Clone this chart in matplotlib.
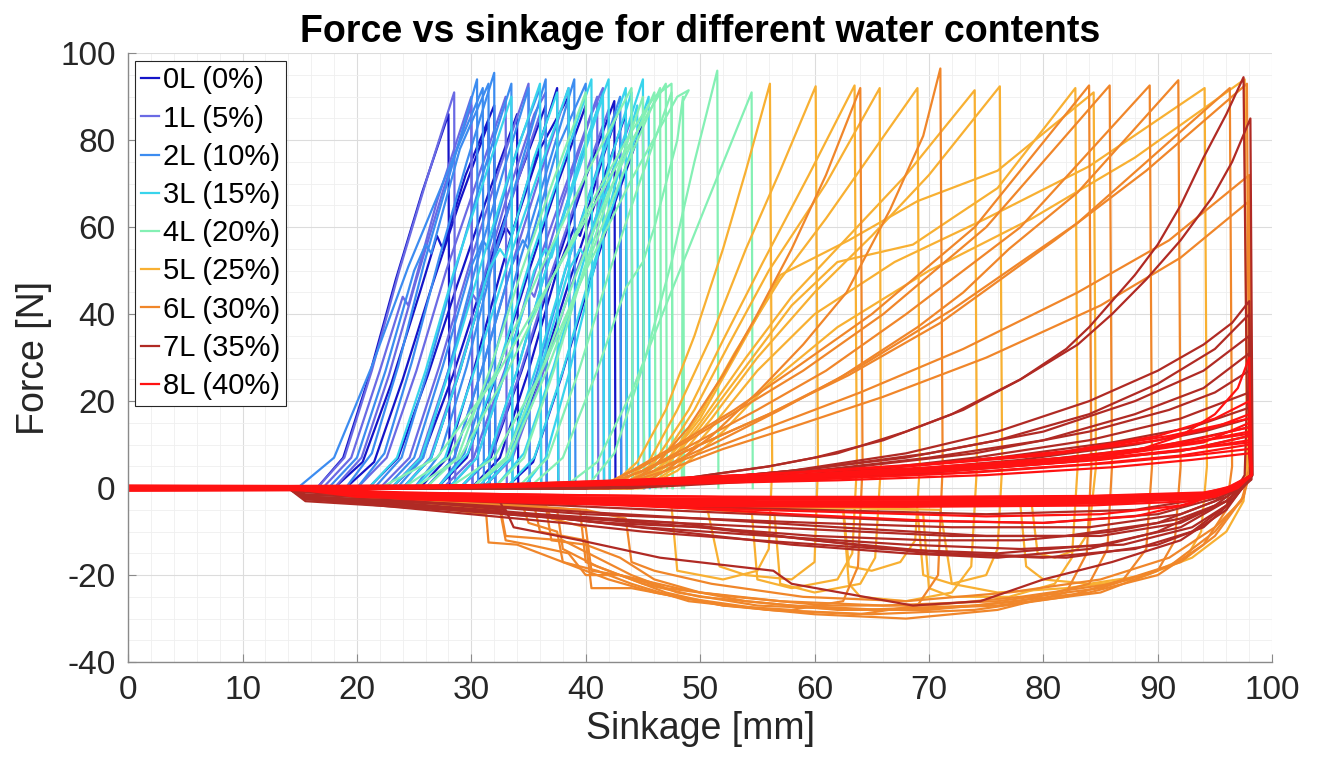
import numpy as np
import matplotlib
matplotlib.use('Agg')
import matplotlib.pyplot as plt
from matplotlib.ticker import MultipleLocator

plt.rcParams['font.family'] = ['Liberation Sans', 'DejaVu Sans']
plt.rcParams['axes.unicode_minus'] = False

# legend text and line colours per water content
labels = ['0L (0%)', '1L (5%)', '2L (10%)', '3L (15%)', '4L (20%)',
          '5L (25%)', '6L (30%)', '7L (35%)', '8L (40%)']
colors = ['#1414c8', '#6a6ae4', '#3c8cf0', '#38d4ec', '#84f0b4',
          '#f8b032', '#f0862a', '#b02a24', '#ff1212']

# each run: (sinkage [mm], force [N]) points
curves_0L = [
    [(0, 0), (16.5, 0), (18.8, 7), (21.1, 26), (23.4, 48), (25.7, 68), (28, 86), (28.1, 0)],
    [(0, 0), (18, 0), (20.5, 6), (23, 24), (25.5, 45), (27, 58), (27.5, 55), (29.5, 72), (32, 88), (32.1, 0)],
    [(0, 0), (19, 0), (21.5, 6), (24, 25), (26.5, 46), (29, 66), (31.5, 84), (31.6, 0)],
    [(0, 0), (21, 0), (23.6, 7), (26.2, 26), (28.8, 47), (31.4, 67), (34, 86), (34.1, 0)],
    [(0, 0), (23, 0), (25.7, 7), (28.4, 26), (31.1, 48), (33.8, 69), (36.5, 88), (36.6, 0)],
    [(0, 0), (24, 0), (26.5, 7), (29, 27), (31.5, 50), (33, 60), (33.5, 58), (36, 78), (38.5, 90), (38.6, 0)],
    [(0, 0), (25.5, 0), (27.9, 7), (30.3, 28), (32.7, 51), (35.1, 72), (37.5, 92), (37.6, 0)],
    [(0, 0), (27, 0), (29.6, 7), (32.2, 26), (34.8, 48), (37.4, 69), (40, 88), (40.1, 0)],
    [(0, 0), (29, 0), (31.7, 7), (34.4, 27), (37.1, 49), (39.8, 70), (42.5, 89), (42.6, 0)],
    [(0, 0), (30, 0), (32.5, 7), (35, 27), (37.5, 50), (39, 60), (39.5, 58), (41.5, 76), (43, 88), (43.1, 0)],
    [(0, 0), (31, 0), (33.5, 7), (36, 26), (38.5, 47), (41, 67), (43.5, 86), (43.6, 0)],
    [(0, 0), (33, 0), (35.4, 6), (37.8, 25), (40.2, 46), (42.6, 66), (45, 84), (45.1, 0)],
]
curves_1L = [
    [(0, 0), (16.5, 0), (18.9, 7), (21.3, 27), (23.7, 50), (26.1, 71), (28.5, 91), (28.6, 0)],
    [(0, 0), (17, 0), (19.5, 7), (22, 27), (24, 44), (24.5, 42), (27, 66), (29.5, 86), (30, 90), (30.1, 0)],
    [(0, 0), (18, 0), (20.4, 7), (22.8, 26), (25.2, 48), (27.6, 69), (30, 88), (30.1, 0)],
    [(0, 0), (20, 0), (22.6, 7), (25.2, 27), (27.8, 50), (30.4, 70), (33, 90), (33.1, 0)],
    [(0, 0), (22, 0), (24.6, 7), (27.2, 28), (29.8, 51), (32.4, 73), (35, 93), (35.1, 0)],
    [(0, 0), (23, 0), (25.5, 7), (28, 27), (30, 45), (30.5, 43), (33, 66), (35.5, 86), (36.5, 91), (36.6, 0)],
    [(0, 0), (24, 0), (26.4, 7), (28.8, 26), (31.2, 47), (33.6, 67), (36, 86), (36.1, 0)],
    [(0, 0), (26, 0), (28.5, 7), (31, 28), (33.5, 51), (36, 72), (38.5, 92), (38.6, 0)],
    [(0, 0), (27.5, 0), (30.2, 7), (32.9, 27), (35.6, 50), (38.3, 70), (41, 90), (41.1, 0)],
    [(0, 0), (28, 0), (30.5, 7), (33, 27), (35, 46), (35.5, 44), (38, 66), (40.5, 86), (41.5, 92), (41.6, 0)],
    [(0, 0), (29, 0), (31.6, 7), (34.2, 26), (36.8, 48), (39.4, 68), (42, 87), (42.1, 0)],
    [(0, 0), (31, 0), (33.6, 7), (36.2, 26), (38.8, 47), (41.4, 66), (44, 85), (44.1, 0)],
]
curves_2L = [
    [(0, 0), (14.8, 0), (18, 7), (21.3, 28), (24.5, 51), (27.8, 72), (31, 92), (31.1, 0)],
    [(0, 0), (17.5, 0), (20, 7), (22.5, 27), (25, 50), (26, 56), (26.5, 54), (29, 78), (31.5, 93), (31.6, 0)],
    [(0, 0), (19, 0), (21.3, 8), (23.6, 28), (25.9, 52), (28.2, 73), (30.5, 94), (30.6, 0)],
    [(0, 0), (20, 0), (22.4, 8), (24.8, 29), (27.2, 53), (29.6, 75), (32, 95.5), (32.1, 0)],
    [(0, 0), (21.5, 0), (23.9, 7), (26.3, 28), (28.7, 51), (31.1, 73), (33.5, 93), (33.6, 0)],
    [(0, 0), (22.5, 0), (25, 7), (27.5, 28), (30, 51), (31, 57), (31.5, 55), (34, 78), (36, 92), (36.1, 0)],
    [(0, 0), (23.5, 0), (25.8, 7), (28.1, 28), (30.4, 51), (32.7, 72), (35, 92), (35.1, 0)],
    [(0, 0), (25, 0), (27.3, 8), (29.6, 28), (31.9, 52), (34.2, 73), (36.5, 94), (36.6, 0)],
    [(0, 0), (26, 0), (28.5, 7), (31, 28), (33.5, 51), (34.5, 57), (35, 55), (37.5, 78), (40, 93), (40.1, 0)],
    [(0, 0), (27, 0), (29.4, 8), (31.8, 28), (34.2, 52), (36.6, 73), (39, 94), (39.1, 0)],
    [(0, 0), (29, 0), (31.5, 7), (34, 27), (36.5, 50), (39, 71), (41.5, 91), (41.6, 0)],
    [(0, 0), (31, 0), (33.4, 7), (35.8, 27), (38.2, 50), (40.6, 70), (43, 90), (43.1, 0)],
]
curves_3L = [
    [(0, 0), (21, 0), (23.5, 7), (26, 27), (28.5, 50), (31, 70), (33.5, 90), (33.6, 0)],
    [(0, 0), (23, 0), (25.6, 7), (28.2, 28), (30.8, 51), (33.4, 73), (36, 93), (36.1, 0)],
    [(0, 0), (24, 0), (26.5, 7), (29, 27), (31.5, 50), (32.5, 55), (33, 53), (35.5, 76), (37.5, 91), (37.6, 0)],
    [(0, 0), (25, 0), (27.7, 7), (30.4, 28), (33.1, 51), (35.8, 72), (38.5, 92), (38.6, 0)],
    [(0, 0), (27, 0), (29.7, 8), (32.4, 28), (35.1, 52), (37.8, 73), (40.5, 94), (40.6, 0)],
    [(0, 0), (28, 0), (30.5, 7), (33, 27), (35.5, 50), (36.5, 55), (37, 53), (39.5, 76), (42, 94), (42.1, 0)],
    [(0, 0), (29, 0), (31.5, 7), (34, 27), (36.5, 50), (39, 70), (41.5, 90), (41.6, 0)],
    [(0, 0), (30.5, 0), (33.1, 7), (35.7, 28), (38.3, 51), (40.9, 72), (43.5, 92), (43.6, 0)],
    [(0, 0), (31, 0), (33.5, 7), (36, 27), (38.5, 50), (39.5, 55), (40, 53), (42, 74), (44, 91), (44.1, 0)],
    [(0, 0), (32, 0), (34.6, 8), (37.2, 28), (39.8, 52), (42.4, 73), (45, 94), (45.1, 0)],
    [(0, 0), (33, 0), (35.5, 7), (38, 27), (40.5, 50), (43, 70), (45.5, 90), (45.6, 0)],
    [(0, 0), (34.5, 0), (36.5, 7), (38.5, 26), (40.5, 48), (42.5, 69), (44.5, 88), (44.6, 0)],
]
curves_4L = [
    [(0, 0), (22, 0), (27, 7), (32, 25), (37, 48), (42, 71), (47, 93), (47.1, 0)],
    [(0, 0), (24, 0), (28, 7), (32, 26), (36, 50), (40, 72), (44, 92), (44.1, 0)],
    [(0, 0), (25, 0), (29, 7), (33, 26), (37, 48), (41, 68), (44, 82), (46, 90), (47.5, 93), (47.6, 0)],
    [(0, 0), (26, 0), (28.8, 7), (31.6, 27), (34.4, 50), (37.2, 71), (40, 91), (40.1, 0)],
    [(0, 0), (28, 0), (32, 7), (36, 26), (40, 50), (44, 71), (48, 90), (49, 91.5), (48.5, 89), (48.4, 0)],
    [(0, 0), (30, 0), (33.3, 7), (36.6, 27), (39.9, 50), (43.2, 72), (46.5, 92), (46.6, 0)],
    [(0, 0), (30, 0), (33, 7), (36, 26), (39, 48), (42, 68), (44.5, 82), (46, 91), (46.1, 0)],
    [(0, 0), (32, 0), (34.6, 7), (37.2, 27), (39.8, 50), (42.4, 70), (45, 90), (45.1, 0)],
    [(0, 0), (34, 0), (36.7, 7), (39.4, 27), (42.1, 50), (44.8, 71), (47.5, 91), (47.6, 0)],
    [(0, 0), (35, 0), (38, 7), (41, 27), (43.5, 46), (45, 52), (46, 60), (48, 80), (48.5, 90), (48.6, 0)],
    [(0, 0), (40, 0), (42.5, 8), (45, 28), (47.5, 52), (49.5, 75), (51.5, 96), (51.6, 0)],
    [(0, 0), (38, 0), (41, 6), (44, 22), (47, 42), (50.5, 65), (54.5, 91), (54.6, 0)],
]
curves_5L = [
    [(0, 0), (42, 0), (44.5, 6), (47, 18), (49.5, 35), (52, 55), (54, 73), (56.1, 93), (56.3, 5), (56, -14),
     (55, -19), (52, -21), (48, -19), (47.5, -4), (40, -3), (28, -2), (14, 0)],
    [(0, 0), (42.5, 0), (45.5, 6), (48, 18), (51, 35), (54, 55), (57, 73), (60.1, 92.4), (60.3, 5), (60, -17),
     (58, -21), (54, -20), (51.7, -18), (50.6, -4.4), (40, -3), (28, -2), (14, 0)],
    [(0, 0), (43, 0), (46, 6), (49, 18), (52, 34), (55.5, 52), (59.5, 72), (63.5, 92.6), (63.7, 5), (63.3, -15),
     (62, -21), (58, -23), (55, -21), (54.5, -5), (40, -3), (28, -2), (14, 0)],
    [(0, 0), (43.5, 0), (46.5, 6), (49.5, 18), (52.5, 33), (56, 50), (61, 70), (65.7, 92), (65.8, 5), (65.3, -16),
     (64, -22), (60, -24), (57, -22), (56.5, -6), (40, -3), (28, -2), (14, 0)],
    [(0, 0), (44, 0), (47, 6), (50, 17), (53, 31), (57, 48), (61, 62), (65, 77), (69, 92), (69.2, 5), (68.8, -12),
     (67.5, -17), (65, -19), (63, -18), (62.5, -4), (40, -3), (28, -2), (14, 0)],
    [(0, 0), (44, 0), (47, 5), (50, 15), (54, 30), (58, 44), (63, 58), (68, 72), (74, 91.5), (74.2, 5), (73.7, -18),
     (72, -24), (68, -26), (64, -25), (63, -22), (62.5, -5), (40, -3), (28, -2), (14, 0)],
    [(0, 0), (44.5, 0), (47.5, 5), (51, 16), (55, 30), (60, 45), (65, 58), (70, 72), (76.2, 92.4), (76.4, 5),
     (76, -14), (75, -20), (72, -22), (69.5, -20), (69, -5), (40, -3), (28, -2), (14, 0)],
    [(0, 0), (44, 0), (47, 5), (50, 14), (54, 28), (58, 42), (62, 52), (68.6, 56), (72, 62), (76, 69), (82.8, 92),
     (83, 5), (82.5, -16), (81, -22), (77, -25), (72, -25), (70, -23), (69.5, -6), (40, -3), (28, -2), (14, 0)],
    [(0, 0), (44, 0), (47, 6), (50, 16), (53, 30), (57, 49), (63, 57), (69, 66), (76, 73), (84.4, 91), (84.6, 5),
     (84, -10), (83, -14), (81, -16), (79.5, -15), (79, -4), (40, -3), (28, -2), (14, 0)],
    [(0, 0), (45, 0), (48, 5), (51, 14), (55, 27), (60, 40), (67, 52), (75, 62), (84, 74), (94.1, 92), (94.3, 5),
     (93.8, -10), (92.5, -16), (89, -20), (84, -22), (80, -21), (78.5, -18), (78, -4), (40, -3), (28, -2), (14, 0)],
    [(0, 0), (45, 0), (48, 4), (52, 13), (56, 24), (62, 37), (70, 50), (79, 62), (88, 76), (97.6, 94), (97.8, 5),
     (97.5, -3), (96, -10), (93, -16), (88, -21), (82, -23), (76, -24), (72, -22), (71, -5), (40, -3), (28, -2),
     (14, 0)],
]
curves_6L = [
    [(0, 0), (43, 0), (46, 5), (49, 14), (52, 26), (55, 40), (58, 55), (61, 72), (64, 92), (64.2, 5), (63.8, -18),
     (62.5, -26), (58, -28), (52, -27), (47, -24), (43, -20), (40, -17), (39.5, -5), (30, -3), (14, 0)],
    [(0, 0), (44, 0), (47, 4), (51, 12), (55, 22), (59, 33), (62.8, 45), (66.6, 64), (69.5, 81), (71, 96.5),
     (71.2, 5), (70.8, -20), (69, -27), (64, -29), (56, -28), (49, -26), (44, -22), (41, -19), (38, -17),
     (37.5, -10), (35, -8), (34.5, -4), (24, -2.5), (14, 0)],
    [(0, 0), (41, 0), (44, 4), (48, 10), (53, 18), (58, 27), (65, 40), (74, 60), (84, 92.6), (84.2, 5), (83.8, -15),
     (82, -24), (76, -28), (68, -30), (60, -29), (52, -27), (46, -24), (42, -21), (39, -18), (36, -15), (34, -13),
     (31.5, -12.5), (31.3, -6), (25, -4), (14, 0)],
    [(0, 0), (41, 0), (45, 5), (49, 11), (54, 19), (59, 27), (66, 40), (75, 60), (85.8, 92.6), (86, 5),
     (85.6, -14), (84, -22), (78, -26), (70, -28), (62, -28), (54, -26), (48, -23), (43, -20), (40, -20),
     (38.5, -15), (35, -13), (33, -12), (32.5, -5), (24, -3), (14, 0)],
    [(0, 0), (41, 0), (45, 4), (50, 11), (55, 18), (61, 27), (68, 40), (78, 60), (89.3, 92.6), (89.5, 5),
     (89, -14), (87, -21), (82, -25), (74, -28), (65, -29), (56, -28), (48, -25), (44, -23), (40.5, -23),
     (40, -12), (36, -10), (35.5, -4), (24, -3), (14, 0)],
    [(0, 0), (41, 0), (45, 4), (50, 10), (56, 17), (62, 25), (69, 37), (73, 45), (77, 55), (83, 68), (91.8, 93.8),
     (92, 5), (91.5, -12), (90, -19), (85, -24), (76, -27), (66, -28), (58, -27), (50, -25), (45, -22), (41, -18),
     (38, -14), (37.5, -5), (24, -3), (14, 0)],
    [(0, 0), (42, 0), (46, 4), (51, 10), (57, 18), (64, 28), (72, 41), (83, 61), (96.3, 92), (96.5, 5), (96, -5),
     (94, -13), (90, -20), (84, -24), (74, -27), (64, -28), (55, -27), (48, -24), (44, -20), (41, -16), (38, -12),
     (33, -11), (32.5, -4), (24, -3), (14, 0)],
    [(0, 0), (42, 0), (46, 4), (51, 9), (57, 15), (64, 22), (73, 32), (83, 45), (91, 57), (98, 72), (98.2, 5),
     (97.5, -2), (95, -10), (91, -18), (85, -23), (76, -26), (66, -27), (57, -26), (50, -24), (46, -21), (43, -16),
     (40, -13), (37, -12), (36.5, -4), (24, -3), (14, 0)],
    [(0, 0), (42, 0), (47, 4), (52, 9), (58, 14), (66, 21), (75, 30), (85, 42), (92, 53), (98, 66), (98.2, 5),
     (97.3, -3), (95, -9), (91, -16), (85, -21), (77, -24), (68, -26), (59, -25), (51, -22), (46, -19), (44, -17),
     (43.5, -7), (40, -5), (24, -3), (14, 0)],
    [(0, 0), (41, 0), (45, 4), (50, 10), (56, 17), (63, 26), (71, 38), (81, 57), (89, 73), (97.8, 93), (98, 5),
     (97.5, -2), (95, -11), (92, -17), (86, -22), (78, -25), (70, -27), (61, -27), (53, -25), (47, -23), (43, -20),
     (40.5, -19), (40, -9), (37, -7), (36.5, -4), (24, -3), (14, 0)],
]
curves_7L = [
    [(0, 0), (40, 0), (48, 2), (56, 5), (60, 7), (63, 9), (66, 11), (69, 14), (72, 17), (75, 21), (78, 25),
     (82, 32), (84, 37), (86, 43), (88, 49), (90, 56), (92, 65), (94, 76), (96, 86), (97.5, 94.5), (97.8, 20),
     (97.6, 3), (96, -4), (93, -10), (88, -14), (80, -16), (70, -15), (60, -12), (50, -9), (40, -7), (30, -5),
     (20, -3), (15.5, -2), (14, 0)],
    [(0, 0), (40, 0), (48, 2), (56, 5), (62, 8), (68, 13), (73, 18), (78, 25), (83, 33), (86, 40), (89, 48),
     (92, 57), (94.8, 67), (96.5, 75), (98.1, 85), (98.3, 3), (96.5, -3), (94, -9), (90, -13), (82, -16),
     (72, -15), (60, -12), (48, -8), (36, -6), (24, -3.5), (15.5, -2.5), (14, 0)],
    [(0, 0), (38, 0), (48, 1.5), (58, 4), (68, 8), (76, 13), (84, 20), (90, 27), (94, 33), (96.5, 38), (98, 43),
     (98.2, 3), (96, -5), (92, -12), (86, -17), (80, -21), (74.5, -26), (68.6, -27), (58, -22), (56.4, -19),
     (46.5, -16), (39.5, -12), (33.7, -9), (33, -5), (25, -3), (15.5, -2), (14, 0)],
    [(0, 0), (38, 0), (48, 1.5), (58, 4), (68, 7), (76, 11), (84, 17), (90, 24), (95, 32), (98, 40), (98.2, 2),
     (96, -3), (92, -8), (85, -11), (75, -11), (62, -9), (50, -7), (40, -5.5), (28, -3.5), (15.5, -2), (14, 0)],
    [(0, 0), (38, 0), (50, 2), (60, 4.5), (70, 8), (80, 13), (88, 20), (94, 27), (98, 35), (98.1, 2), (96, -4),
     (93, -9), (87, -13), (78, -14), (68, -13), (56, -11), (45, -9), (38, -7), (33, -6), (32.5, -3),
     (15.5, -1.5), (14, 0)],
    [(0, 0), (40, 0), (50, 2), (60, 4), (70, 7), (80, 11), (88, 17), (94, 23), (98, 31), (98.1, 2), (95.5, -2),
     (90, -6), (80, -8), (68, -7.5), (55, -6), (42, -4.5), (30, -3), (15.5, -1.5), (14, 0)],
    [(0, 0), (40, 0), (52, 2), (64, 5), (74, 8), (84, 13), (91, 18), (95, 22), (98, 27), (98.1, 2), (96, -3),
     (92, -9), (85, -13), (76, -15), (66, -14), (55, -12), (45, -10), (38, -8), (30, -6), (20, -3.5),
     (15.5, -2.5), (14, 0)],
    [(0, 0), (40, 0), (52, 2), (64, 4), (74, 7), (84, 11), (92, 16), (98, 22), (98.1, 2), (95, -3), (90, -8),
     (82, -11), (72, -11), (60, -9.5), (48, -8), (40, -7), (32, -5.5), (22, -3), (15.5, -2), (14, 0)],
    [(0, 0), (40, 0), (54, 2), (66, 4.5), (76, 7), (86, 10.5), (93, 14), (98, 18.5), (98.1, 2), (96, -2),
     (92, -6), (84, -9), (72, -9), (60, -8), (50, -7), (40, -6), (30, -4), (15.5, -2), (14, 0)],
    [(0, 0), (42, 0), (55, 2), (67, 4), (78, 6.5), (88, 10), (94, 13), (98, 16), (98.1, 2), (95, -4), (90, -10),
     (84, -14), (76, -16), (68, -15), (58, -13), (48, -10), (38, -7), (28, -5), (15.5, -3), (14, 0)],
    [(0, 0), (42, 0), (56, 2), (68, 4), (80, 6.5), (90, 9.5), (98, 14), (98.1, 2), (95, -2), (88, -5), (75, -6),
     (60, -5), (45, -4), (30, -2.5), (15.5, -1), (14, 0)],
    [(0, 0), (44, 0), (58, 2), (70, 3.5), (82, 6), (92, 8.5), (98, 12), (98.1, 2), (96, -3), (92, -7), (86, -10),
     (78, -12), (70, -12), (60, -11), (50, -9), (42, -8), (34, -6), (24, -4), (15.5, -2.5), (14, 0)],
]
curves_8L = [
    [(0, 0.3), (14, 0.2), (30, 0.4), (45, 1.2), (60, 2.5), (72, 4), (85, 6.5), (93, 9), (98, 12), (98.2, 3),
     (97, 0.5), (95, -1.5), (85, -2.5), (70, -3), (55, -3), (40, -2.5), (25, -1.5), (14, 0)],
    [(0, -0.3), (14, -0.2), (32, 0.4), (48, 1.5), (62, 3), (74, 4.8), (86, 7.5), (94, 10.5), (98, 15), (98.2, 3),
     (96.5, 0), (94, -2), (84, -3), (68, -3.5), (52, -3.5), (38, -3), (24, -2), (14, -0.3)],
    [(0, 0.5), (14, 0.4), (30, 0.5), (46, 1), (60, 2), (72, 3.4), (84, 5.5), (92, 7.5), (98, 10), (98.2, 3),
     (96.5, 0.5), (94, -1.2), (82, -2), (66, -2.5), (50, -2.5), (36, -2), (22, -1), (14, 0)],
    [(0, 0.1), (14, 0), (32, 0.3), (48, 1), (62, 1.8), (75, 3), (86, 4.8), (93, 6.5), (98, 8), (98.2, 3),
     (96.5, 0), (93, -2.5), (80, -3.5), (64, -4), (48, -3.8), (34, -3), (20, -2), (14, 0)],
    [(0, -0.5), (14, -0.4), (30, 0.2), (44, 1.4), (58, 3), (70, 4.8), (82, 7), (91, 9.5), (98, 13), (98.2, 3),
     (97, 0), (95, -2), (86, -3.5), (72, -4), (56, -4), (40, -3.5), (26, -2.5), (14, 0)],
    [(0, 0.2), (14, 0.1), (28, 0.5), (42, 1.6), (56, 3.2), (68, 5), (80, 7.5), (90, 11), (95, 14), (98, 17),
     (98.2, 3), (96.5, 0), (94, -1.5), (84, -2), (68, -2.2), (52, -2), (36, -1.5), (22, -1), (14, 0)],
    [(0, -0.1), (14, 0), (30, 0.6), (45, 2), (58, 3.5), (70, 5.5), (82, 8.5), (90, 12), (95, 16), (98, 20),
     (98.2, 3), (96.5, -0.5), (93, -2.5), (82, -3.5), (66, -3.8), (50, -3.5), (36, -3), (22, -2), (14, 0)],
    [(0, 0.4), (14, 0.3), (32, 0.4), (48, 1.2), (60, 2.5), (72, 4), (82, 6), (88, 8.5), (92, 12), (95, 17),
     (97, 23), (98, 30), (98.2, 3), (96, -1), (92, -4), (85, -6), (75, -6.5), (62, -5.5), (48, -4.5), (34, -3),
     (20, -1.5), (14, 0)],
    [(0, -0.2), (14, -0.1), (30, 0.3), (46, 1.3), (60, 2.7), (72, 4.3), (84, 6.6), (92, 8.6), (98, 11), (98.2, 3),
     (96, 0), (93, -3.5), (88, -6.5), (80, -8), (70, -7.5), (58, -6), (45, -4), (30, -2.5), (14, 0)],
    [(0, 0.2), (14, 0.2), (34, 0.4), (50, 1.7), (64, 3.3), (76, 5.3), (86, 8), (93, 11), (98, 14), (98.2, 3),
     (97, 0.3), (95, -1.8), (86, -2.8), (70, -3.2), (54, -3.2), (40, -2.8), (26, -1.8), (14, 0)],
    [(0, -0.4), (14, -0.3), (32, 0.2), (47, 1), (61, 2.2), (74, 3.6), (86, 5.8), (93, 7.5), (98, 9), (98.2, 3),
     (96.5, 0.2), (94, -1), (84, -1.8), (68, -2), (52, -2), (38, -1.6), (24, -1), (14, 0)],
    [(0, 0), (14, 0), (30, 0.5), (44, 1.5), (58, 2.8), (70, 4.5), (82, 7), (91, 9.8), (98, 12.5), (98.2, 3),
     (96.5, -0.3), (93, -3), (84, -4), (68, -4.3), (52, -4.2), (38, -3.6), (24, -2.5), (14, 0)],
    [(0, 0.6), (14, 0.5), (30, 0.7), (46, 1.5), (60, 2.8), (72, 4.4), (84, 6.5), (92, 8.8), (98, 10.5), (98.2, 3),
     (96.5, 0), (94, -1.5), (85, -2.2), (70, -2.6), (55, -2.6), (40, -2.2), (26, -1.4), (14, 0)],
    [(0, -0.6), (14, -0.5), (30, 0.2), (45, 1.8), (58, 3.6), (70, 5.6), (82, 8.3), (91, 12), (98, 16), (98.2, 3),
     (96.5, -0.2), (94, -2), (85, -3), (70, -3.4), (55, -3.4), (40, -3), (26, -2), (14, 0)],
]

groups = [curves_0L, curves_1L, curves_2L, curves_3L, curves_4L,
          curves_5L, curves_6L, curves_7L, curves_8L]

fig = plt.figure(figsize=(13.21, 7.61), dpi=100)
ax = fig.add_axes([0.097, 0.130, 0.866, 0.800])

for label, color, group in zip(labels, colors, groups):
    for i, curve in enumerate(group):
        pts = np.array(curve, dtype=float)
        ax.plot(pts[:, 0], pts[:, 1], color=color, lw=1.6,
                label=label if i == 0 else None, solid_joinstyle='round')

ax.set_xlim(0, 100)
ax.set_ylim(-40, 100)
ax.xaxis.set_major_locator(MultipleLocator(10))
ax.xaxis.set_minor_locator(MultipleLocator(2))
ax.yaxis.set_major_locator(MultipleLocator(20))
ax.yaxis.set_minor_locator(MultipleLocator(5))
ax.grid(which='major', color='#dcdcdc', lw=0.8)
ax.grid(which='minor', color='#efefef', lw=0.6)
ax.set_axisbelow(True)

for side in ['top', 'right']:
    ax.spines[side].set_visible(False)
for side in ['left', 'bottom']:
    ax.spines[side].set_color('#8a8a8a')
    ax.spines[side].set_linewidth(1.0)

ax.tick_params(which='major', direction='in', length=6, width=0.8, color='#8a8a8a',
               labelsize=24, labelcolor='#262626', pad=9)
ax.tick_params(which='minor', length=0)

ax.set_xlabel('Sinkage [mm]', fontsize=27, color='#262626', labelpad=4)
ax.set_ylabel('Force [N]', fontsize=27, color='#262626', labelpad=6)
ax.set_title('Force vs sinkage for different water contents', fontsize=27,
             fontweight='bold', pad=8)

leg = ax.legend(loc='upper left', fontsize=21, handlelength=0.6, handletextpad=0.15,
                labelspacing=0.35, borderpad=0.2, borderaxespad=0.25,
                fancybox=False, framealpha=1, edgecolor='#262626')
leg.get_frame().set_linewidth(0.8)

fig.savefig('out.png', dpi=100)
